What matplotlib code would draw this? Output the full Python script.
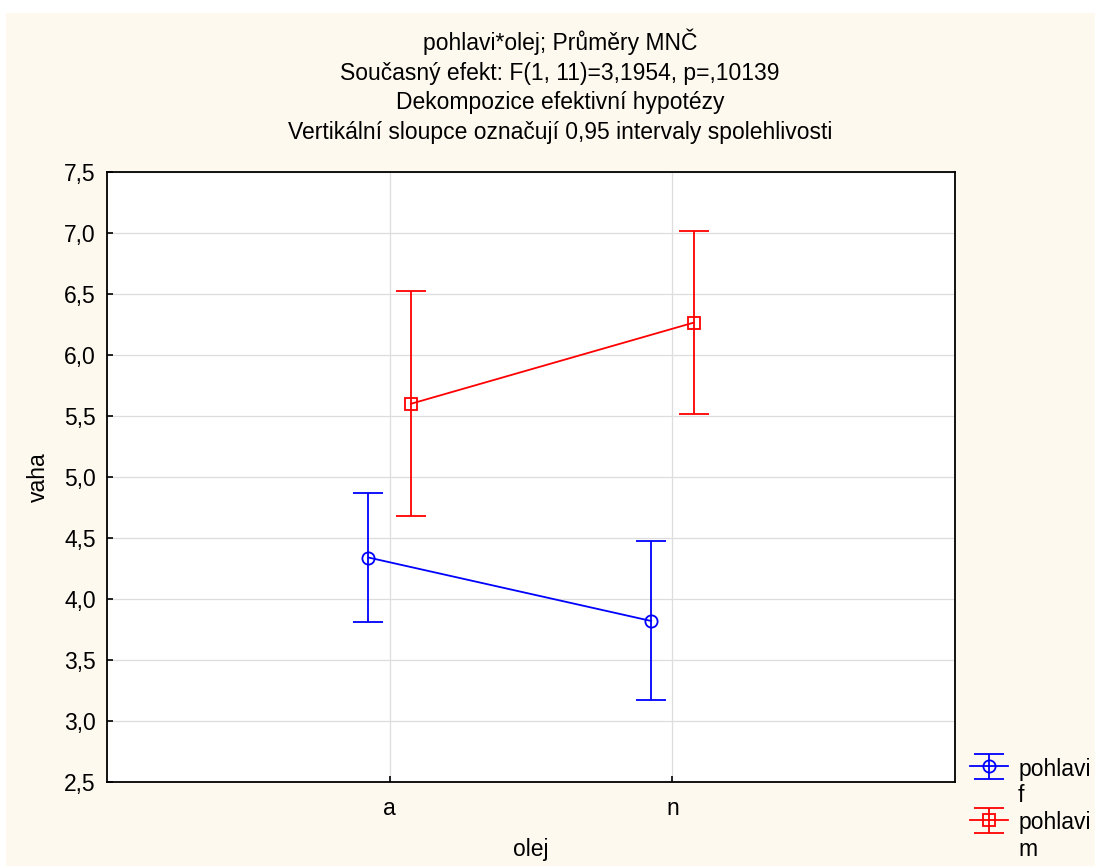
import numpy as np
import matplotlib
matplotlib.use("Agg")
import matplotlib.pyplot as plt
from matplotlib.patches import Rectangle
from matplotlib.legend_handler import HandlerErrorbar
from matplotlib.container import ErrorbarContainer
from matplotlib.transforms import Affine2D

plt.rcParams['font.family'] = ['Liberation Sans', 'DejaVu Sans']

cats = ["a", "n"]
f_mean = [4.34, 3.82]
f_lo = [3.81, 3.17]
f_hi = [4.87, 4.475]
m_mean = [5.60, 6.265]
m_lo = [4.68, 5.515]
m_hi = [6.525, 7.015]
yticks = [2.5, 3.0, 3.5, 4.0, 4.5, 5.0, 5.5, 6.0, 6.5, 7.0, 7.5]
title = ("pohlavi*olej; Průměry MNČ\n"
         "Současný efekt: F(1, 11)=3,1954, p=,10139\n"
         "Dekompozice efektivní hypotézy\n"
         "Vertikální sloupce označují 0,95 intervaly spolehlivosti")
FS = 16.5


class RaisedErrorbar(HandlerErrorbar):
    # legend handle sits on the first text line, like the original
    def create_artists(self, legend, orig_handle, xdescent, ydescent, width, height,
                       fontsize, trans):
        return super().create_artists(legend, orig_handle, xdescent, ydescent, width,
                                      height, fontsize, trans + Affine2D().translate(0, 17))


fig = plt.figure(figsize=(10.95, 8.66), dpi=100)
fig.patch.set_facecolor("white")
fig.add_artist(Rectangle((6 / 1095, 0), 1, 1 - 13 / 866, transform=fig.transFigure,
                         fc="#FEF9EF", ec="none", zorder=-10))
ax = fig.add_axes([107 / 1095, 1 - 782 / 866, 848 / 1095, 610 / 866])
ax.set_facecolor("white")

x = np.arange(len(cats))
off = 0.075
for mean, lo, hi, col, mk, dx, lab in [
        (f_mean, f_lo, f_hi, "#0000FF", "o", -off, "pohlavi\nf"),
        (m_mean, m_lo, m_hi, "#FF0000", "s", off, "pohlavi\nm")]:
    mean = np.array(mean); lo = np.array(lo); hi = np.array(hi)
    ax.errorbar(x + dx, mean, yerr=[mean - lo, hi - mean], color=col, lw=1.3,
                marker=mk, ms=8.8 if mk == "o" else 8.3, mfc="none", mec=col, mew=1.3,
                capsize=10.5, capthick=1.3, label=lab, zorder=3)

ax.set_xlim(-1, 2)
ax.set_ylim(2.5, 7.5)
ax.set_xticks(x)
ax.set_xticklabels(cats)
ax.set_yticks(yticks)
ax.set_yticklabels([f"{v:.1f}".replace(".", ",") for v in yticks])
ax.grid(color="#DDDDDD", lw=0.9)
ax.set_axisbelow(True)
ax.tick_params(direction="in", length=4, width=1.2, labelsize=FS)
ax.tick_params(axis="x", pad=11)
ax.tick_params(axis="y", pad=8)
for s in ax.spines.values():
    s.set_linewidth(1.3)
ax.set_xlabel("olej", fontsize=FS, labelpad=12.5)
ax.set_ylabel("vaha", fontsize=FS, labelpad=10)
ax.set_title(title, fontsize=FS, linespacing=1.36, pad=24, x=(560 - 107) / 848)

leg = fig.legend(loc="lower left", bbox_to_anchor=(970 / 1095, 5 / 866), frameon=False,
                 fontsize=FS, handlelength=1.65, handletextpad=0.45, labelspacing=0.18,
                 borderpad=0, borderaxespad=0,
                 handler_map={ErrorbarContainer: RaisedErrorbar(yerr_size=0.55)})

fig.savefig("out.png", dpi=100, facecolor=fig.get_facecolor())
